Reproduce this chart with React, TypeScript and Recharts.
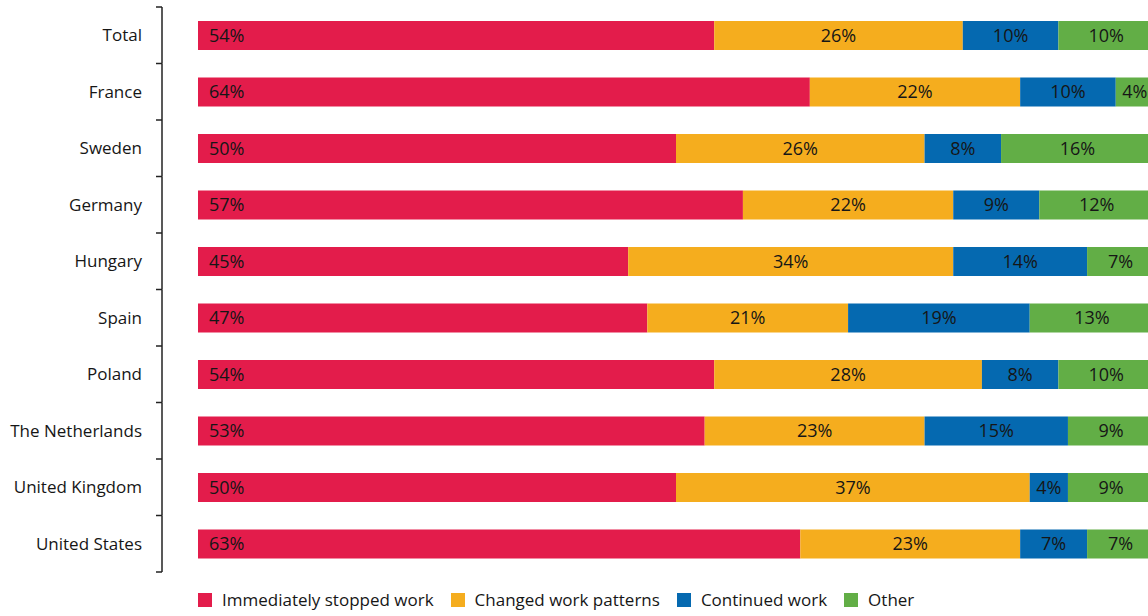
import { BarChart, Bar, XAxis, YAxis, Legend, LabelList } from "recharts"

const countries = [
  "Total",
  "France",
  "Sweden",
  "Germany",
  "Hungary",
  "Spain",
  "Poland",
  "The Netherlands",
  "United Kingdom",
  "United States",
]
const stoppedWork = [54, 64, 50, 57, 45, 47, 54, 53, 50, 63]
const changedPatterns = [26, 22, 26, 22, 34, 21, 28, 23, 37, 23]
const continuedWork = [10, 10, 8, 9, 14, 19, 8, 15, 4, 7]
const otherResponse = [10, 4, 16, 12, 7, 13, 10, 9, 9, 7]

const seriesList = [
  { key: "stopped", name: "Immediately stopped work", color: "#E31C4B" },
  { key: "changed", name: "Changed work patterns", color: "#F5AD1E" },
  { key: "continued", name: "Continued work", color: "#0569B0" },
  { key: "other", name: "Other", color: "#62AE46" },
]

const data = countries.map((country, i) => ({
  country,
  stopped: stoppedWork[i],
  changed: changedPatterns[i],
  continued: continuedWork[i],
  other: otherResponse[i],
}))

const FONT = "'Open Sans', sans-serif"
const TEXT = "#161616"

function CountryTick(props: any) {
  const { y, payload, index, visibleTicksCount } = props
  const half = payload.offset ?? 28.25
  const axisX = 162
  return (
    <g>
      <text x={142} y={y} dy="0.36em" textAnchor="end" fontSize={17} fontWeight={500} fontFamily={FONT} fill={TEXT}>
        {payload.value}
      </text>
      <line x1={axisX} x2={axisX} y1={y - half} y2={y + half} stroke="#222" strokeWidth={1.5} />
      <line x1={axisX - 6} x2={axisX} y1={y - half} y2={y - half} stroke="#222" strokeWidth={1.5} />
      {index === visibleTicksCount - 1 && (
        <line x1={axisX - 6} x2={axisX} y1={y + half} y2={y + half} stroke="#222" strokeWidth={1.5} />
      )}
    </g>
  )
}

function LegendRow() {
  return (
    <div style={{ display: "flex", alignItems: "center", fontFamily: FONT, fontSize: 17, fontWeight: 500, color: TEXT }}>
      {seriesList.map((s) => (
        <div key={s.key} style={{ display: "flex", alignItems: "center", marginRight: 17 }}>
          <span style={{ width: 14, height: 14, background: s.color, marginRight: 10, display: "inline-block" }} />
          <span>{s.name}</span>
        </div>
      ))}
    </div>
  )
}

const pct = (v: any) => `${v}%`

export default function App() {
  return (
    <div style={{ position: "absolute", left: 0, top: 0, width: 1148, height: 616, overflow: "hidden", background: "#fff" }}>
      <BarChart
        layout="vertical"
        width={1154}
        height={616}
        data={data}
        margin={{ top: 7, right: 0, bottom: 44, left: 0 }}
        barSize={29}
      >
        <XAxis type="number" domain={[0, 100]} hide />
        <YAxis
          type="category"
          dataKey="country"
          width={198}
          axisLine={false}
          tickLine={false}
          interval={0}
          tick={<CountryTick />}
        />
        <Legend
          verticalAlign="middle"
          align="center"
          layout="horizontal"
          content={() => <LegendRow />}
          wrapperStyle={{ left: 198, top: 588, width: "auto", height: "auto" }}
        />
        {seriesList.map((s, si) => (
          <Bar key={s.key} dataKey={s.key} name={s.name} stackId="a" fill={s.color} isAnimationActive={false}>
            <LabelList
              dataKey={s.key}
              position={si === 0 ? "insideLeft" : "center"}
              offset={11}
              formatter={pct}
              fill={TEXT}
              fontSize={18}
              fontWeight={500}
              fontFamily={FONT}
            />
          </Bar>
        ))}
      </BarChart>
    </div>
  )
}
